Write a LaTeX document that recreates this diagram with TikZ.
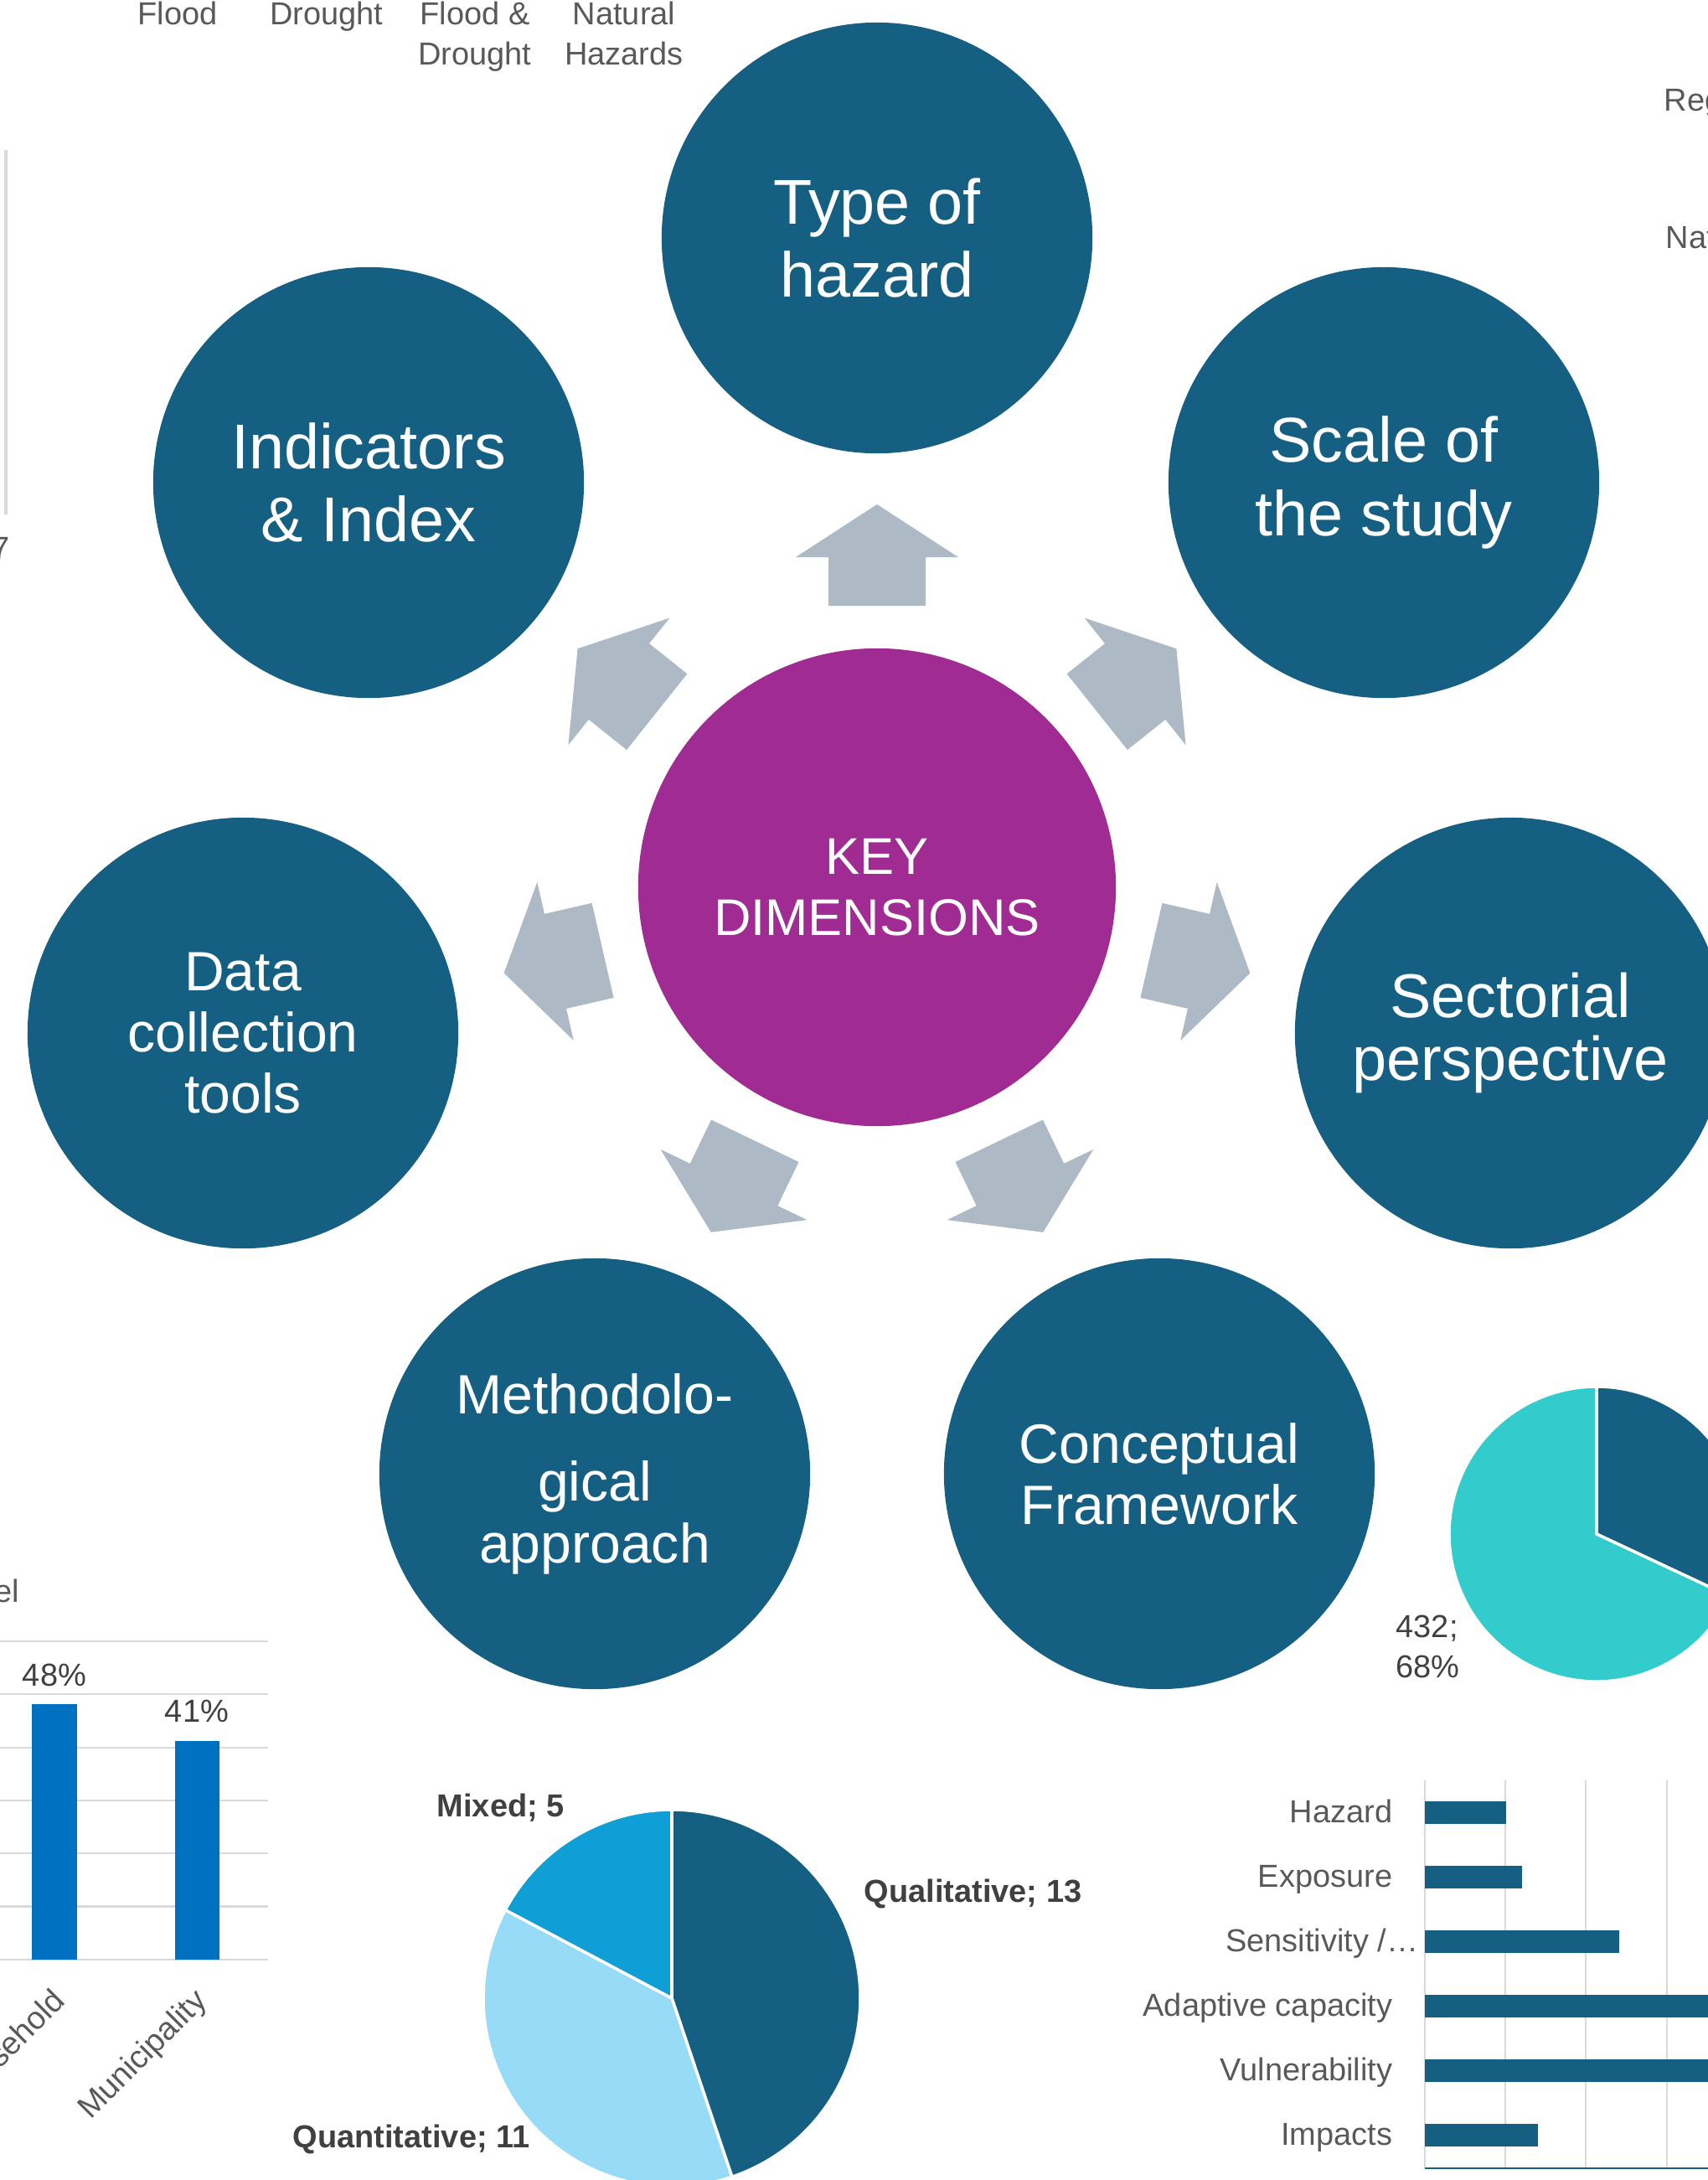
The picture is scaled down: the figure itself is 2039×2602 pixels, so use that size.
\documentclass[tikz,border=0pt]{standalone}
\usepackage{fontspec}
\setmainfont{Liberation Sans}
\usetikzlibrary{calc}

\definecolor{dimblue}{HTML}{156082}
\definecolor{keypurple}{HTML}{A02B93}
\definecolor{arrowgray}{HTML}{ADB9C5}
\definecolor{mixblue}{HTML}{0F9ED5}
\definecolor{quantblue}{HTML}{97DBF7}
\definecolor{barblue}{HTML}{0070C0}
\definecolor{piecyan}{HTML}{33CCCC}
\definecolor{axisgray}{HTML}{595959}
\definecolor{labelgray}{HTML}{404040}
\definecolor{gridgray}{HTML}{D9D9D9}

\begin{document}
\begin{tikzpicture}[x=0.01cm, y=0.01cm,
    dim/.style={circle, fill=dimblue, text=white, minimum size=5.14cm,
        inner sep=0pt, align=center},
    toprow/.style={font={\fontsize{21.5}{25}\selectfont}},
    lowrow/.style={font={\fontsize{18.8}{20.8}\selectfont}},
    blockarrow/.style={fill=arrowgray},
    axislabel/.style={font={\fontsize{10.8}{13.7}\selectfont}, text=axisgray, inner sep=0pt},
    datalabel/.style={font={\fontsize{10.8}{13.7}\selectfont}, text=labelgray, inner sep=0pt},
    slice/.style={draw=white, line width=1pt},
    gridline/.style={draw=gridgray, line width=0.6pt},
    ]
    \useasboundingbox (0,0) rectangle (2039,-2602);
    \clip (0,0) rectangle (2039,-2602);

    % Chart pieces cut by the frame
    \node[axislabel, anchor=base] (flood) at (212,-29) {Flood};
    \node[axislabel, anchor=base] (drought) at (390,-29) {Drought};
    \node[axislabel, anchor=north, align=center] (both) at (567,-1) {Flood \&\\Drought};
    \node[axislabel, anchor=north, align=center] (natural) at (745,-1) {Natural\\Hazards};
    \node[axislabel, anchor=base west] (reg) at (1986,-132) {Reg};
    \node[axislabel, anchor=base west] (nat) at (1988,-296) {Nat};
    \draw[gridline, line width=1pt] (7,-179) -- (7,-614);
    \node[axislabel, anchor=base east] (seven) at (12,-667) {7};

    % Bars, bottom left
    \node[axislabel, anchor=base east] (lvl) at (24,-1912) {el};
    \foreach \k in {0,...,6}
        \draw[gridline] (0,{-1959-63.3*\k}) -- (320,{-1959-63.3*\k});
    \fill[barblue] (38,-2339) rectangle (92,-2034);
    \fill[barblue] (209,-2339) rectangle (262,-2078);
    \node[datalabel, anchor=base] (p48) at (65,-2012) {48\%};
    \node[datalabel, anchor=base] (p41) at (235,-2055) {41\%};
    \node[axislabel, rotate=45, anchor=north east] (house) at (60,-2370) {sehold};
    \node[axislabel, rotate=45, anchor=north east] (muni) at (229,-2370) {Municipality};

    % Pie, bottom centre
    \coordinate (mpie) at (802,-2385);
    \filldraw[slice, fill=dimblue] (mpie) -- +(90:225) arc[start angle=90, end angle=-71.38, radius=225] -- cycle;
    \filldraw[slice, fill=quantblue] (mpie) -- +(-71.38:225) arc[start angle=-71.38, end angle=-207.93, radius=225] -- cycle;
    \filldraw[slice, fill=mixblue] (mpie) -- +(-207.93:225) arc[start angle=-207.93, end angle=-270, radius=225] -- cycle;
    \node[datalabel, font={\fontsize{10.8}{13.7}\selectfont\bfseries}, anchor=base west] (mixed) at (521,-2168) {Mixed; 5};
    \node[datalabel, font={\fontsize{10.8}{13.7}\selectfont\bfseries}, anchor=base west] (qual) at (1031,-2270) {Qualitative; 13};
    \node[datalabel, font={\fontsize{10.8}{13.7}\selectfont\bfseries}, anchor=base west] (quant) at (349,-2563) {Quantitative; 11};

    % Pie, right
    \coordinate (rpie) at (1906,-1831);
    \filldraw[slice, fill=dimblue] (rpie) -- +(90:176) arc[start angle=90, end angle=-25.1, radius=176] -- cycle;
    \filldraw[slice, fill=piecyan] (rpie) -- +(-25.1:176) arc[start angle=-25.1, end angle=-270, radius=176] -- cycle;
    \node[datalabel, anchor=north west, align=left] (share) at (1666,-1927) {432;\\68\%};

    % Bars, bottom right
    \foreach \x in {1701,1797,1893,1990}
        \draw[gridline] (\x,-2125) -- (\x,-2588);
    \draw[dimblue, line width=0.8pt] (1701,-2588) -- (2039,-2588);
    \foreach \v/\lx/\lab [count=\k from 0] in {5/1663/Hazard, 6/1663/Exposure,
            12/1694/{Sensitivity /…}, 20/1663/Adaptive capacity,
            20/1663/Vulnerability, 7/1663/Impacts} {
        \fill[dimblue] (1701,{-2149.5-77*\k}) rectangle ({1701+19.3*\v},{-2176.5-77*\k});
        \node[axislabel, anchor=base east] (cat\k) at (\lx,{-2175-77*\k}) {\lab};
    }

    % Key dimensions and the seven circles round it
    \node[dim, fill=keypurple, minimum size=5.7cm,
        font={\fontsize{17.5}{20.8}\selectfont}] (key) at (1047,-1059) {KEY\\DIMENSIONS};
    \node[dim, toprow] (hazard) at (1047,-284) {Type of\\hazard};
    \node[dim, toprow] (index) at (440,-576) {Indicators\\\& Index};
    \node[dim, toprow] (scale) at (1652,-576) {Scale of\\the study};
    \node[dim, font={\fontsize{21}{21.3}\selectfont}] (sector) at (1803,-1233) {Sectorial\\perspective};
    \node[dim, lowrow] (data) at (290,-1233) {Data\\collection\\tools};
    \node[dim, lowrow] (method) at (710,-1759) {Methodolo-\\[9pt]gical\\approach};
    \node[dim, lowrow] (frame) at (1384,-1759) {Conceptual\\Framework};

    % Block arrows
    \foreach \a in {90,38.55,141.45,-12.96,192.96,-64.29,244.29}
        \fill[blockarrow, shift={(key.center)}, rotate=\a]
            (336,-58) -- (394,-58) -- (394,-97) -- (457,0) -- (394,97) -- (394,58) -- (336,58) -- cycle;
\end{tikzpicture}
\end{document}
